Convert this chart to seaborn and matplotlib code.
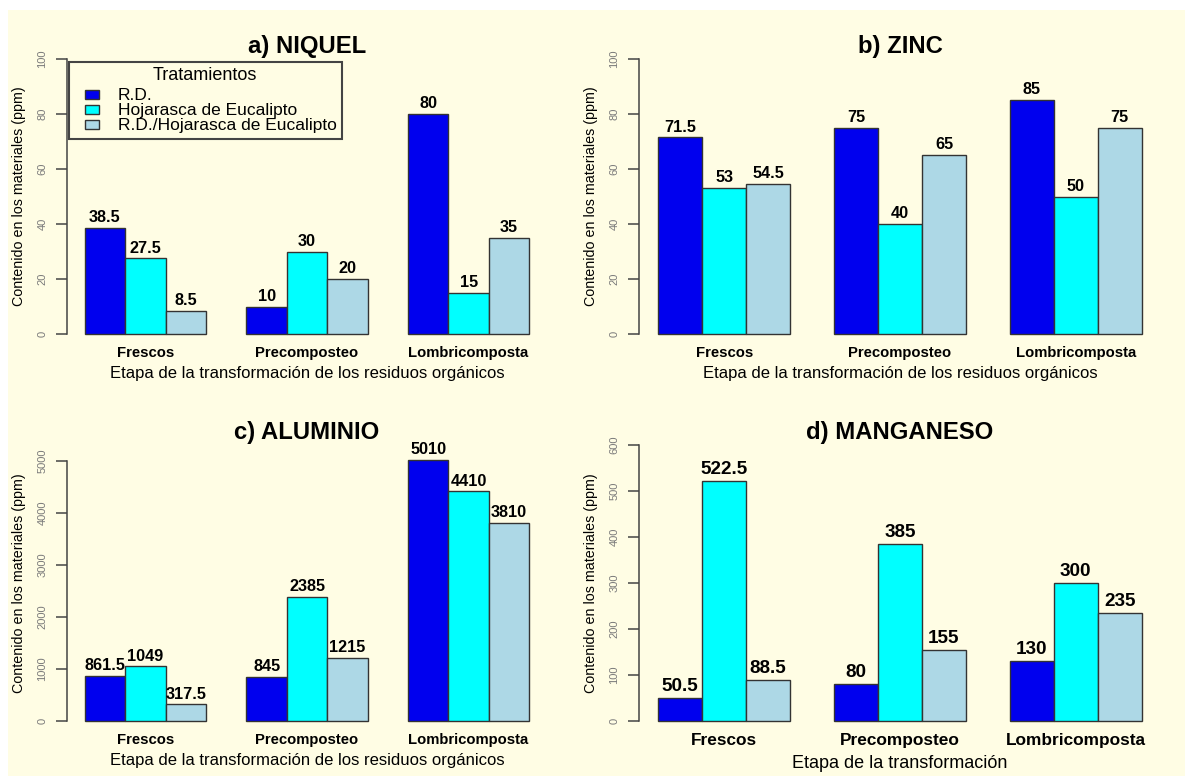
import numpy as np
import pandas as pd
import seaborn as sns
import matplotlib.pyplot as plt
import matplotlib.patches as mpatches
from matplotlib.legend_handler import HandlerPatch

# datos
etapas = ['Frescos', 'Precomposteo', 'Lombricomposta']
tratamientos = ['R.D.', 'Hojarasca de Eucalipto', 'R.D./Hojarasca de Eucalipto']
colores = ['#0000EE', '#00FFFF', '#ADD8E6']

niquel_rd = [38.5, 10, 80]
niquel_hoj = [27.5, 30, 15]
niquel_mix = [8.5, 20, 35]

zinc_rd = [71.5, 75, 85]
zinc_hoj = [53, 40, 50]
zinc_mix = [54.5, 65, 75]

aluminio_rd = [861.5, 845, 5010]
aluminio_hoj = [1049, 2385, 4410]
aluminio_mix = [317.5, 1215, 3810]

manganeso_rd = [50.5, 80, 130]
manganeso_hoj = [522.5, 385, 300]
manganeso_mix = [88.5, 155, 235]

fondo = '#FFFDE4'
gris = '#444444'

sns.set_style('white')
plt.rcParams['font.family'] = ['Liberation Sans', 'DejaVu Sans']
plt.rcParams['text.color'] = 'black'
plt.rcParams['axes.labelcolor'] = 'black'
plt.rcParams['xtick.color'] = 'black'

W, H = 1185, 776
fig = plt.figure(figsize=(W / 100, H / 100), dpi=100, facecolor='white')
fig.patches.append(mpatches.Rectangle((8 / W, 0), 1, 1 - 10 / H, transform=fig.transFigure,
                                      facecolor=fondo, edgecolor='none', zorder=-10))


def caja(x0, x1, y0, y1):
    return [x0 / W, 1 - y1 / H, (x1 - x0) / W, (y1 - y0) / H]


def panel(ax, titulo, rd, hoj, mix, ylim, yticks, xlabel, esc=1.0):
    df = pd.DataFrame({
        'etapa': etapas * 3,
        'tratamiento': np.repeat(tratamientos, 3),
        'valor': rd + hoj + mix,
    })
    sns.barplot(data=df, x='etapa', y='valor', hue='tratamiento', order=etapas,
                hue_order=tratamientos, palette=colores, saturation=1, width=0.75,
                errorbar=None, edgecolor='#333333', linewidth=1, legend=False, ax=ax)
    for cont in ax.containers:
        ax.bar_label(cont, labels=[f'{b.get_height():g}' for b in cont], padding=2,
                     fontsize=11.7 * esc, fontweight='bold', color='black')
    ax.set_facecolor('none')
    ax.set_xlim(-0.485, 2.485)
    ax.set_ylim(*ylim)
    ax.set_yticks(yticks)
    sns.despine(ax=ax, bottom=True)
    ax.spines['left'].set_bounds(yticks[0], yticks[-1])
    ax.spines['left'].set_color(gris)
    ax.spines['left'].set_linewidth(1.1)
    ax.tick_params(axis='y', labelrotation=90, length=8, width=1.1, color=gris, pad=6,
                   labelsize=8, labelcolor='#7a7a7a', left=True)
    ax.tick_params(axis='x', length=0, pad=0.5, labelsize=10.7 * esc, labelcolor='black')
    for t in ax.get_xticklabels():
        t.set_fontweight('bold')
    for t in ax.get_yticklabels():
        t.set_va('center')
    ax.set_title(titulo, fontsize=17.2, fontweight='bold', pad=-3.8)
    ax.set_xlabel(xlabel, fontsize=12 if esc == 1 else 13)
    alto = ax.get_position().height * H
    ancho = ax.get_position().width * W
    ax.xaxis.set_label_coords(0.5, -(21 if esc == 1 else 23) / alto)
    ax.set_ylabel('Contenido en los materiales (ppm)', fontsize=10.3)
    ax.yaxis.set_label_coords(-41 / ancho, 0.5)


etapa_txt = 'Etapa de la transformación de los residuos orgánicos'

ax_a = fig.add_axes(caja(67, 547, 48, 345))
ax_b = fig.add_axes(caja(639, 1161, 48, 345))
ax_c = fig.add_axes(caja(67, 547, 434, 732))
ax_d = fig.add_axes(caja(639, 1161, 434, 732))

panel(ax_a, 'a) NIQUEL', niquel_rd, niquel_hoj, niquel_mix, (-4, 104), range(0, 101, 20), etapa_txt)
panel(ax_b, 'b) ZINC', zinc_rd, zinc_hoj, zinc_mix, (-4, 104), range(0, 101, 20), etapa_txt)
panel(ax_c, 'c) ALUMINIO', aluminio_rd, aluminio_hoj, aluminio_mix, (-212, 5512),
      range(0, 5001, 1000), etapa_txt)
panel(ax_d, 'd) MANGANESO', manganeso_rd, manganeso_hoj, manganeso_mix, (-24, 624),
      range(0, 601, 100), 'Etapa de la transformación', esc=1.16)


def cuadro(legend, orig_handle, xdescent, ydescent, width, height, fontsize):
    w = 0.8 * fontsize
    return mpatches.Rectangle((-xdescent + width - w, -ydescent), w, height)


handles = [mpatches.Patch(facecolor=c, edgecolor='#333333', linewidth=1) for c in colores]
leg = ax_a.legend(handles, tratamientos, title='Tratamientos', loc='upper left',
                  bbox_to_anchor=(0.004, 0.953), fontsize=12.5, title_fontsize=13,
                  frameon=True, fancybox=False, framealpha=1, facecolor=fondo,
                  edgecolor=gris, borderpad=0.3, labelspacing=0,
                  handlelength=1.45, handleheight=0.42, handletextpad=1.05,
                  borderaxespad=0,
                  handler_map={mpatches.Patch: HandlerPatch(patch_func=cuadro)})
leg.get_frame().set_linewidth(1.5)
leg._legend_box.sep = 3

fig.savefig('out.png', dpi=100, facecolor=fig.get_facecolor())
